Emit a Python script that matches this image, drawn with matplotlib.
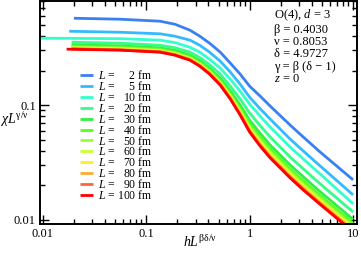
import matplotlib
matplotlib.use('Agg')
import matplotlib.pyplot as plt
from matplotlib.ticker import LogLocator, NullFormatter

plt.rcParams['font.family'] = ['Liberation Serif', 'DejaVu Serif']
plt.rcParams['mathtext.fontset'] = 'custom'
plt.rcParams['mathtext.rm'] = 'Liberation Serif'
plt.rcParams['mathtext.it'] = 'Liberation Serif:italic'

# box sizes L (fm) and line colours
L_values = [2, 5, 10, 20, 30, 40, 50, 60, 70, 80, 90, 100]
colors = ['#3a80f5', '#33bbff', '#33ffcc', '#33ff88', '#33ee44', '#55ff22',
          '#99ff33', '#ccff33', '#ffee22', '#ffaa33', '#ff6633', '#ff0000']

# first h L^(beta delta/nu) of each curve, then a common grid
h_start = [0.020, 0.018, 0.009, 0.019, 0.019, 0.019, 0.019, 0.019, 0.019, 0.019, 0.019, 0.017]
h_grid = [0.056, 0.136, 0.19, 0.265, 0.33, 0.41, 0.52, 0.65, 0.81, 1.0, 1.26, 1.58,
          2.46, 3.3, 4.8, 10.0]

# chi L^(gamma/nu)
chi_L2 = [0.571, 0.560, 0.538, 0.506, 0.449, 0.398, 0.346, 0.289, 0.232, 0.186, 0.146, 0.120, 0.098, 0.067, 0.0527, 0.0390, 0.0223]
chi_L5 = [0.440, 0.431, 0.418, 0.398, 0.368, 0.332, 0.289, 0.241, 0.194, 0.152, 0.117, 0.0932, 0.0755, 0.0506, 0.0398, 0.0295, 0.0165]
chi_L10 = [0.383, 0.379, 0.368, 0.350, 0.319, 0.289, 0.251, 0.210, 0.168, 0.132, 0.102, 0.0802, 0.0644, 0.0431, 0.0339, 0.0251, 0.0138]
chi_L20 = [0.353, 0.346, 0.332, 0.316, 0.289, 0.259, 0.225, 0.186, 0.146, 0.113, 0.0852, 0.0663, 0.0527, 0.0353, 0.0278, 0.0206, 0.0117]
chi_L30 = [0.335, 0.328, 0.315, 0.299, 0.272, 0.243, 0.209, 0.171, 0.133, 0.0998, 0.0737, 0.0568, 0.0449, 0.0301, 0.0237, 0.0176, 0.0101]
chi_L40 = [0.326, 0.320, 0.307, 0.290, 0.264, 0.235, 0.202, 0.164, 0.126, 0.0940, 0.0686, 0.0525, 0.0415, 0.0278, 0.0219, 0.0163, 0.00934]
chi_L50 = [0.320, 0.314, 0.301, 0.285, 0.258, 0.230, 0.197, 0.159, 0.122, 0.0901, 0.0653, 0.0498, 0.0393, 0.0263, 0.0207, 0.0154, 0.00887]
chi_L60 = [0.316, 0.310, 0.298, 0.281, 0.255, 0.226, 0.194, 0.156, 0.119, 0.0876, 0.0631, 0.0480, 0.0378, 0.0253, 0.0199, 0.0149, 0.00855]
chi_L70 = [0.313, 0.307, 0.295, 0.278, 0.252, 0.224, 0.191, 0.154, 0.117, 0.0856, 0.0614, 0.0466, 0.0367, 0.0246, 0.0193, 0.01445, 0.00832]
chi_L80 = [0.310, 0.304, 0.292, 0.275, 0.249, 0.221, 0.189, 0.152, 0.115, 0.0840, 0.0600, 0.0455, 0.0358, 0.0240, 0.0189, 0.0141, 0.00812]
chi_L90 = [0.309, 0.302, 0.291, 0.274, 0.248, 0.220, 0.188, 0.151, 0.114, 0.0829, 0.0591, 0.0447, 0.0352, 0.0236, 0.0185, 0.01386, 0.00799]
chi_L100 = [0.307, 0.301, 0.289, 0.272, 0.246, 0.218, 0.186, 0.149, 0.113, 0.0818, 0.0582, 0.0440, 0.0346, 0.0232, 0.0182, 0.01364, 0.00786]
chi_all = [chi_L2, chi_L5, chi_L10, chi_L20, chi_L30, chi_L40, chi_L50,
           chi_L60, chi_L70, chi_L80, chi_L90, chi_L100]

info_lines = [r'O(4), $d$ = 3', 'β = 0.4030', 'ν = 0.8053', 'δ = 4.9727',
              'γ = β (δ − 1)', r'$z$ = 0']

fig = plt.figure(figsize=(3.61, 2.57), dpi=100)
ax = fig.add_axes([0.1108, 0.1284, 0.878, 0.866])

for L, c, h0, chi in zip(L_values, colors, h_start, chi_all):
  pad = ' ' * (2 * (3 - len(str(L))))
  label = r'$L$ = ' + pad + str(L) + ' fm'
  ax.plot([h0] + h_grid, chi, color=c, lw=2.0, label=label, solid_capstyle='butt')

ax.set_xscale('log')
ax.set_yscale('log')
ax.set_xlim(0.0094, 10.9)
ax.set_ylim(0.0092, 0.8)

ax.set_xticks([0.01, 0.1, 1, 10], labels=['0.01', '0.1', '1', '10'])
ax.set_yticks([0.01, 0.1], labels=['0.01', '0.1'])
ax.xaxis.set_minor_locator(LogLocator(base=10, subs=range(2, 10)))
ax.yaxis.set_minor_locator(LogLocator(base=10, subs=range(2, 10)))
ax.xaxis.set_minor_formatter(NullFormatter())
ax.yaxis.set_minor_formatter(NullFormatter())
ax.tick_params(which='both', direction='in', top=True, right=True, width=1.0,
               labelsize=9, color='black')
ax.tick_params(which='major', length=6.5, pad=3)
ax.tick_params(which='minor', length=3.3)
for s in ax.spines.values():
  s.set_linewidth(1.4)

ax.set_ylabel(r'$\chi \mathit{L}^{\mathrm{\gamma/\nu}}$', rotation=0, fontsize=10,
              ha='center', va='center')
ax.yaxis.set_label_coords(-0.08, 0.468)
ax.set_xlabel(r'$\mathit{hL}^{\mathrm{\beta\delta/\nu}}$', fontsize=10, va='top')
ax.xaxis.set_label_coords(0.505, -0.045)

ax.text(0.738, 0.972, '\n'.join(info_lines), transform=ax.transAxes,
        ha='left', va='top', fontsize=9, linespacing=1.05)

ax.legend(loc='upper left', bbox_to_anchor=(0.126, 0.695), frameon=False,
          fontsize=8.5, handlelength=1.1, handletextpad=0.45,
          labelspacing=-0.18, borderpad=0, borderaxespad=0)

plt.savefig('out.png', dpi=100)
